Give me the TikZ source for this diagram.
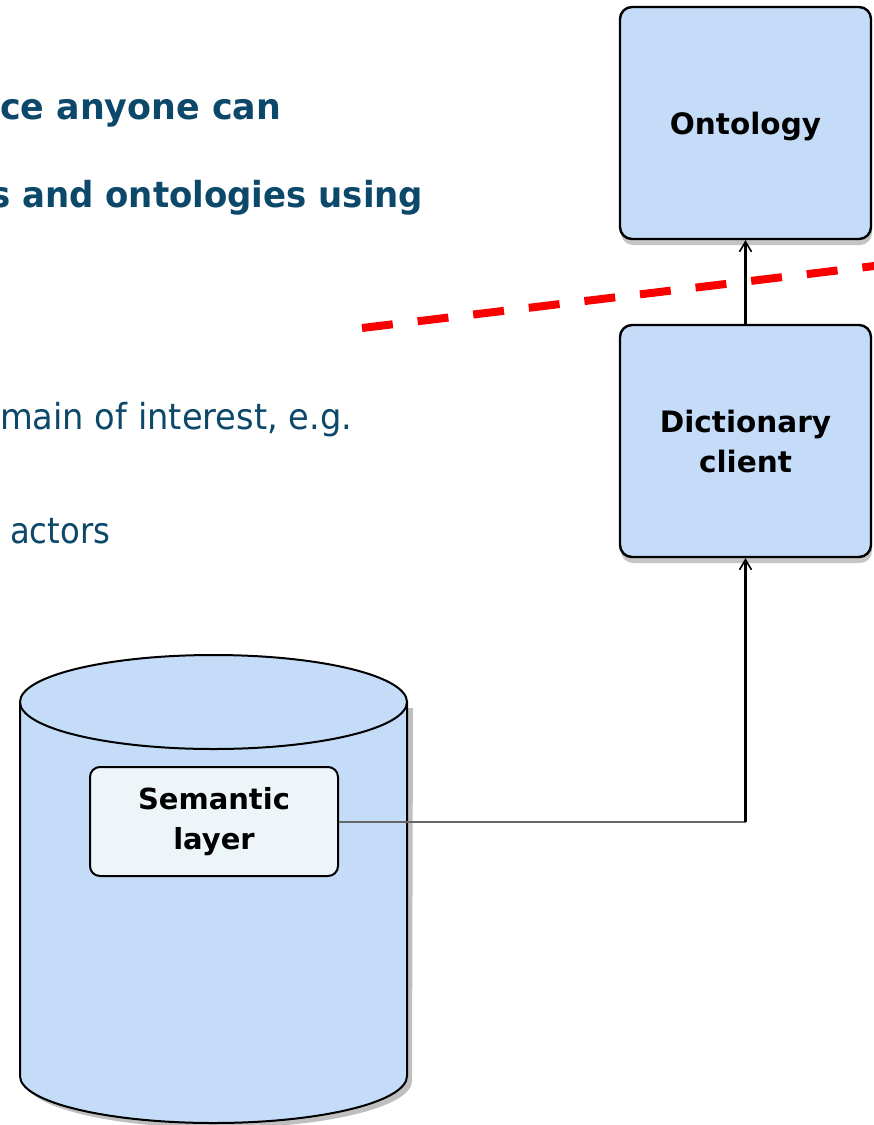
\documentclass[tikz,border=0pt]{standalone}
\usepackage{graphicx}
\usepackage{fontspec}
\setmainfont{DejaVu Sans}
\usetikzlibrary{arrows.meta,shadows}
\definecolor{boxblue}{RGB}{196,220,248}
\definecolor{semfill}{RGB}{238,245,249}
\definecolor{slideblue}{RGB}{12,72,105}
\definecolor{dashred}{RGB}{250,0,0}
\tikzset{
  box/.style={draw=black, line width=2.4pt, fill=boxblue, rounded corners=12pt,
    minimum width=251pt, minimum height=232pt, align=center,
    font=\fontsize{29.5}{40}\selectfont\bfseries,
    drop shadow={shadow xshift=1pt, shadow yshift=-6pt, opacity=0.45}},
  sembox/.style={draw=black, line width=2pt, fill=semfill, rounded corners=10pt,
    minimum width=248pt, minimum height=109pt, align=center,
    font=\fontsize{29}{40}\selectfont\bfseries},
  conn/.style={draw=black, line width=2.4pt, -{Straight Barb[length=10pt,width=12pt,line width=1.6pt]}},
  txt/.style={anchor=base west, inner sep=0pt, text=slideblue},
  cyl/.style={draw=black, line width=2pt, fill=boxblue}
}
\begin{document}
\begin{tikzpicture}[x=1pt,y=-1pt]
\useasboundingbox (0,0) rectangle (874,1125);
\clip (0,0) rectangle (874,1125);
\fill[white] (0,0) rectangle (874,1125);

% slide text
\node[txt] (t1) at (0,119) {\resizebox{281pt}{1.12\height}{\bfseries\fontsize{32}{38}\selectfont ce anyone can}};
\node[txt] (t2) at (-10,207) {\resizebox{433pt}{1.12\height}{\bfseries\fontsize{32}{38}\selectfont s and ontologies using}};
\node[txt] (t3) at (0,429) {\resizebox{352pt}{1.12\height}{\fontsize{32}{38}\selectfont main of interest, e.g.}};
\node[txt] (t4) at (10,543) {\resizebox{100pt}{1.12\height}{\fontsize{32}{38}\selectfont actors}};

% cylinder
\fill[black,opacity=0.25] (25,708) -- (25,1081) arc[start angle=180,end angle=0,x radius=193.5,y radius=47] -- (413,708) -- cycle;
\path[cyl] (20,702) -- (20,1076) arc[start angle=180,end angle=0,x radius=193.5,y radius=47] -- (407,702) -- cycle;
\path[cyl] (213.5,702) ellipse [x radius=193.5, y radius=47];

% boxes
\node[box, text depth=0pt] (onto) at (745.5,123) {Ontology};
\node[box] (dict) at (745.5,441) {Dictionary\\client};
\node[sembox] (sem) at (214,821.5) {Semantic\\layer};

% connectors
\coordinate (bend) at (sem.east -| dict.south);
\draw[line width=2pt, black!60] (sem.east) -- (bend);
\draw[conn] (bend) -- (dict.south);
\draw[conn] (dict.north) -- (onto.south);

% red dashed boundary
\coordinate (redA) at (362,328);
\coordinate (redB) at (880,265.3);
\draw[dashred, line width=8pt, dash pattern=on 31pt off 25pt] (redA) -- (redB);
\end{tikzpicture}
\end{document}
